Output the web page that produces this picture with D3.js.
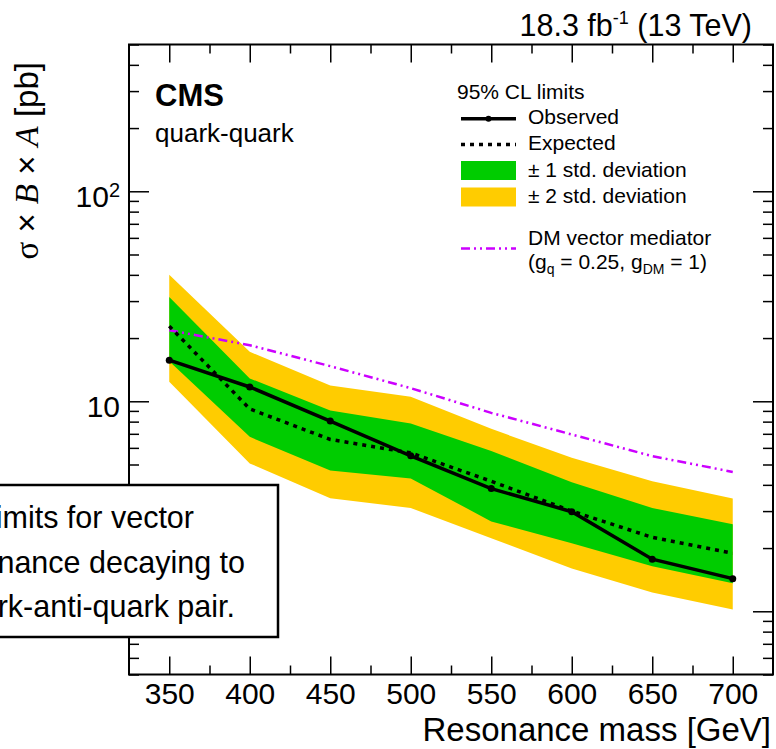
<!DOCTYPE html>
<html>
<head>
<meta charset="utf-8">
<script src="https://cdn.jsdelivr.net/npm/d3@7"></script>
<style>
body { margin: 0; background: #fff; }
svg { display: block; font-family: "Liberation Sans", Arial, sans-serif; }
</style>
</head>
<body>
<svg id="chart" width="776" height="749"></svg>
<script>
// resonance mass points [GeV]
var masses = [350, 400, 450, 500, 550, 600, 650, 700];
// 95% CL limits on sigma x B x A [pb]
var observed = [15.7, 11.7, 8.05, 5.5, 3.84, 2.98, 1.77, 1.43];
var expected = [22.8, 9.2, 6.58, 5.68, 4.16, 3.0, 2.25, 1.89];
var band1Lo = [15.5, 6.77, 4.68, 4.29, 2.68, 2.11, 1.64, 1.36];
var band1Hi = [31.4, 12.85, 9.05, 7.84, 5.79, 4.12, 3.10, 2.60];
var band2Lo = [12.4, 5.06, 3.45, 3.10, 2.23, 1.60, 1.23, 1.02];
var band2Hi = [40.0, 17.2, 11.9, 10.5, 7.39, 5.38, 4.16, 3.44];
// DM vector mediator prediction
var dmXsec = [21.8, 18.5, 14.7, 11.55, 8.81, 6.95, 5.48, 4.61];

var xTicks = [350, 400, 450, 500, 550, 600, 650, 700];
var xMinorTicks = [375, 425, 475, 525, 575, 625, 675];
var yMajorTicks = [1, 10, 100];

var boxLines = ["Upper limits for vector", "resonance decaying to", "quark-anti-quark pair."];
var boxLineEnds = [194, 245, 235];

var plotL = 129, plotR = 773, plotT = 44.5, plotB = 674.5;

var x = d3.scaleLinear().domain([325, 725]).range([plotL, plotR]);
var y = d3.scaleLog().domain([0.5, 500]).range([plotB, plotT]);

var svg = d3.select("#chart");

/* bands */
function band(lo, hi) {
  return d3.area()
    .x(function(d) { return x(d); })
    .y0(function(d, i) { return y(lo[i]); })
    .y1(function(d, i) { return y(hi[i]); });
}
svg.append("path").datum(masses).attr("d", band(band2Lo, band2Hi)).attr("fill", "#ffcc00");
svg.append("path").datum(masses).attr("d", band(band1Lo, band1Hi)).attr("fill", "#00cc00");

/* lines */
function line(vals) {
  return d3.line()
    .x(function(d) { return x(d); })
    .y(function(d, i) { return y(vals[i]); });
}
svg.append("path").datum(masses).attr("d", line(dmXsec))
  .attr("fill", "none").attr("stroke", "#cc00ff").attr("stroke-width", 2.5)
  .attr("stroke-dasharray", "9 4 2 4 2 4");
svg.append("path").datum(masses).attr("d", line(expected))
  .attr("fill", "none").attr("stroke", "#000").attr("stroke-width", 3.5)
  .attr("stroke-dasharray", "4 5");
svg.append("path").datum(masses).attr("d", line(observed))
  .attr("fill", "none").attr("stroke", "#000").attr("stroke-width", 3.5);
svg.selectAll(".obs-pt").data(masses).enter().append("circle")
  .attr("class", "obs-pt")
  .attr("cx", function(d) { return x(d); })
  .attr("cy", function(d, i) { return y(observed[i]); })
  .attr("r", 3.5).attr("fill", "#000");

/* axes */
var yMinorTicks = y.ticks().filter(function(d) { return yMajorTicks.indexOf(d) < 0; });

function styleAxis(g) {
  g.select(".domain").remove();
  g.selectAll(".tick line").attr("stroke", "#000").attr("stroke-width", 1.5);
  g.selectAll(".tick text").attr("fill", "#000");
}

svg.append("g").attr("transform", "translate(0," + plotB + ")")
  .call(d3.axisBottom(x).tickValues(xTicks).tickSize(-18).tickPadding(8).tickFormat(d3.format("d")))
  .call(styleAxis)
  .selectAll("text").attr("font-size", "30px");
svg.append("g").attr("transform", "translate(0," + plotB + ")")
  .call(d3.axisBottom(x).tickValues(xMinorTicks).tickSize(-9).tickFormat(""))
  .call(styleAxis);
svg.append("g").attr("transform", "translate(0," + plotT + ")")
  .call(d3.axisTop(x).tickValues(xTicks).tickSize(-18).tickFormat(""))
  .call(styleAxis);
svg.append("g").attr("transform", "translate(0," + plotT + ")")
  .call(d3.axisTop(x).tickValues(xMinorTicks).tickSize(-9).tickFormat(""))
  .call(styleAxis);

var yAxisG = svg.append("g").attr("transform", "translate(" + plotL + ",0)")
  .call(d3.axisLeft(y).tickValues(yMajorTicks).tickSize(-20).tickPadding(9)
    .tickFormat(function(d) { return d === 100 ? "10" : d3.format("d")(d); }))
  .call(styleAxis);
yAxisG.selectAll("text").attr("font-size", "30px").attr("dy", "0.5em");
yAxisG.selectAll(".tick text").filter(function(d) { return d === 100; })
  .append("tspan").attr("dy", "-0.5em").attr("font-size", "20px").text("2");
svg.append("g").attr("transform", "translate(" + plotL + ",0)")
  .call(d3.axisLeft(y).tickValues(yMinorTicks).tickSize(-10).tickFormat(""))
  .call(styleAxis);
svg.append("g").attr("transform", "translate(" + plotR + ",0)")
  .call(d3.axisRight(y).tickValues(yMajorTicks).tickSize(-20).tickFormat(""))
  .call(styleAxis);
svg.append("g").attr("transform", "translate(" + plotR + ",0)")
  .call(d3.axisRight(y).tickValues(yMinorTicks).tickSize(-10).tickFormat(""))
  .call(styleAxis);

/* frame */
svg.append("rect")
  .attr("x", plotL).attr("y", plotT)
  .attr("width", plotR - plotL).attr("height", plotB - plotT)
  .attr("fill", "none").attr("stroke", "#000").attr("stroke-width", 2);

/* axis titles */
svg.append("text")
  .attr("x", 771).attr("y", 741)
  .attr("text-anchor", "end").attr("font-size", "33px")
  .text("Resonance mass [GeV]");

var yTitle = svg.append("text")
  .attr("transform", "translate(38,62) rotate(-90)")
  .attr("text-anchor", "end").attr("font-size", "33px");
yTitle.append("tspan").attr("font-family", "'Liberation Serif', serif").text("σ");
yTitle.append("tspan").text(" × ");
yTitle.append("tspan").attr("font-family", "'Liberation Serif', serif").attr("font-style", "italic").text("B");
yTitle.append("tspan").text(" × ");
yTitle.append("tspan").attr("font-family", "'Liberation Serif', serif").attr("font-style", "italic").text("A");
yTitle.append("tspan").text(" [pb]");

/* header */
var lumi = svg.append("text")
  .attr("x", 752).attr("y", 36)
  .attr("text-anchor", "end").attr("font-size", "30.5px");
lumi.append("tspan").text("18.3 fb");
lumi.append("tspan").attr("dy", -12).attr("font-size", "18px").text("-1");
lumi.append("tspan").attr("dy", 12).text(" (13 TeV)");

svg.append("text").attr("x", 155).attr("y", 106)
  .attr("font-size", "31px").attr("font-weight", "bold").text("CMS");
svg.append("text").attr("x", 155).attr("y", 142)
  .attr("font-size", "26px").text("quark-quark");

/* legend */
var lx = 461, lw = 55, tx = 528;
svg.append("text").attr("x", 457).attr("y", 98.5).attr("font-size", "21px").text("95% CL limits");

svg.append("line").attr("x1", lx).attr("x2", lx + lw).attr("y1", 118.7).attr("y2", 118.7)
  .attr("stroke", "#000").attr("stroke-width", 3.5);
svg.append("circle").attr("cx", lx + lw / 2).attr("cy", 118.7).attr("r", 3).attr("fill", "#000");
svg.append("text").attr("x", tx).attr("y", 124).attr("font-size", "21px").text("Observed");

svg.append("line").attr("x1", lx).attr("x2", lx + lw).attr("y1", 144.5).attr("y2", 144.5)
  .attr("stroke", "#000").attr("stroke-width", 3.5).attr("stroke-dasharray", "4 5");
svg.append("text").attr("x", tx).attr("y", 150).attr("font-size", "21px").text("Expected");

svg.append("rect").attr("x", lx).attr("y", 161).attr("width", lw).attr("height", 19).attr("fill", "#00cc00");
svg.append("text").attr("x", tx).attr("y", 177).attr("font-size", "21px").text("± 1 std. deviation");

svg.append("rect").attr("x", lx).attr("y", 187.5).attr("width", lw).attr("height", 19).attr("fill", "#ffcc00");
svg.append("text").attr("x", tx).attr("y", 203).attr("font-size", "21px").text("± 2 std. deviation");

svg.append("line").attr("x1", lx).attr("x2", lx + lw).attr("y1", 248.5).attr("y2", 248.5)
  .attr("stroke", "#cc00ff").attr("stroke-width", 2.5).attr("stroke-dasharray", "9 4 2 4 2 4");
svg.append("text").attr("x", tx).attr("y", 245).attr("font-size", "21px").text("DM vector mediator");
var dmLab = svg.append("text").attr("x", tx).attr("y", 269).attr("font-size", "21px");
dmLab.append("tspan").text("(g");
dmLab.append("tspan").attr("dy", 5).attr("font-size", "14px").text("q");
dmLab.append("tspan").attr("dy", -5).text(" = 0.25, g");
dmLab.append("tspan").attr("dy", 5).attr("font-size", "14px").text("DM");
dmLab.append("tspan").attr("dy", -5).text(" = 1)");

/* caption box */
svg.append("rect")
  .attr("x", -80).attr("y", 485).attr("width", 358).attr("height", 152)
  .attr("fill", "#fff").attr("stroke", "#000").attr("stroke-width", 2.5);
svg.selectAll(".box-line").data(boxLines).enter().append("text")
  .attr("class", "box-line")
  .attr("x", function(d, i) { return boxLineEnds[i]; })
  .attr("y", function(d, i) { return 528 + i * 44.5; })
  .attr("text-anchor", "end").attr("font-size", "30.5px")
  .text(function(d) { return d; });
</script>
</body>
</html>
